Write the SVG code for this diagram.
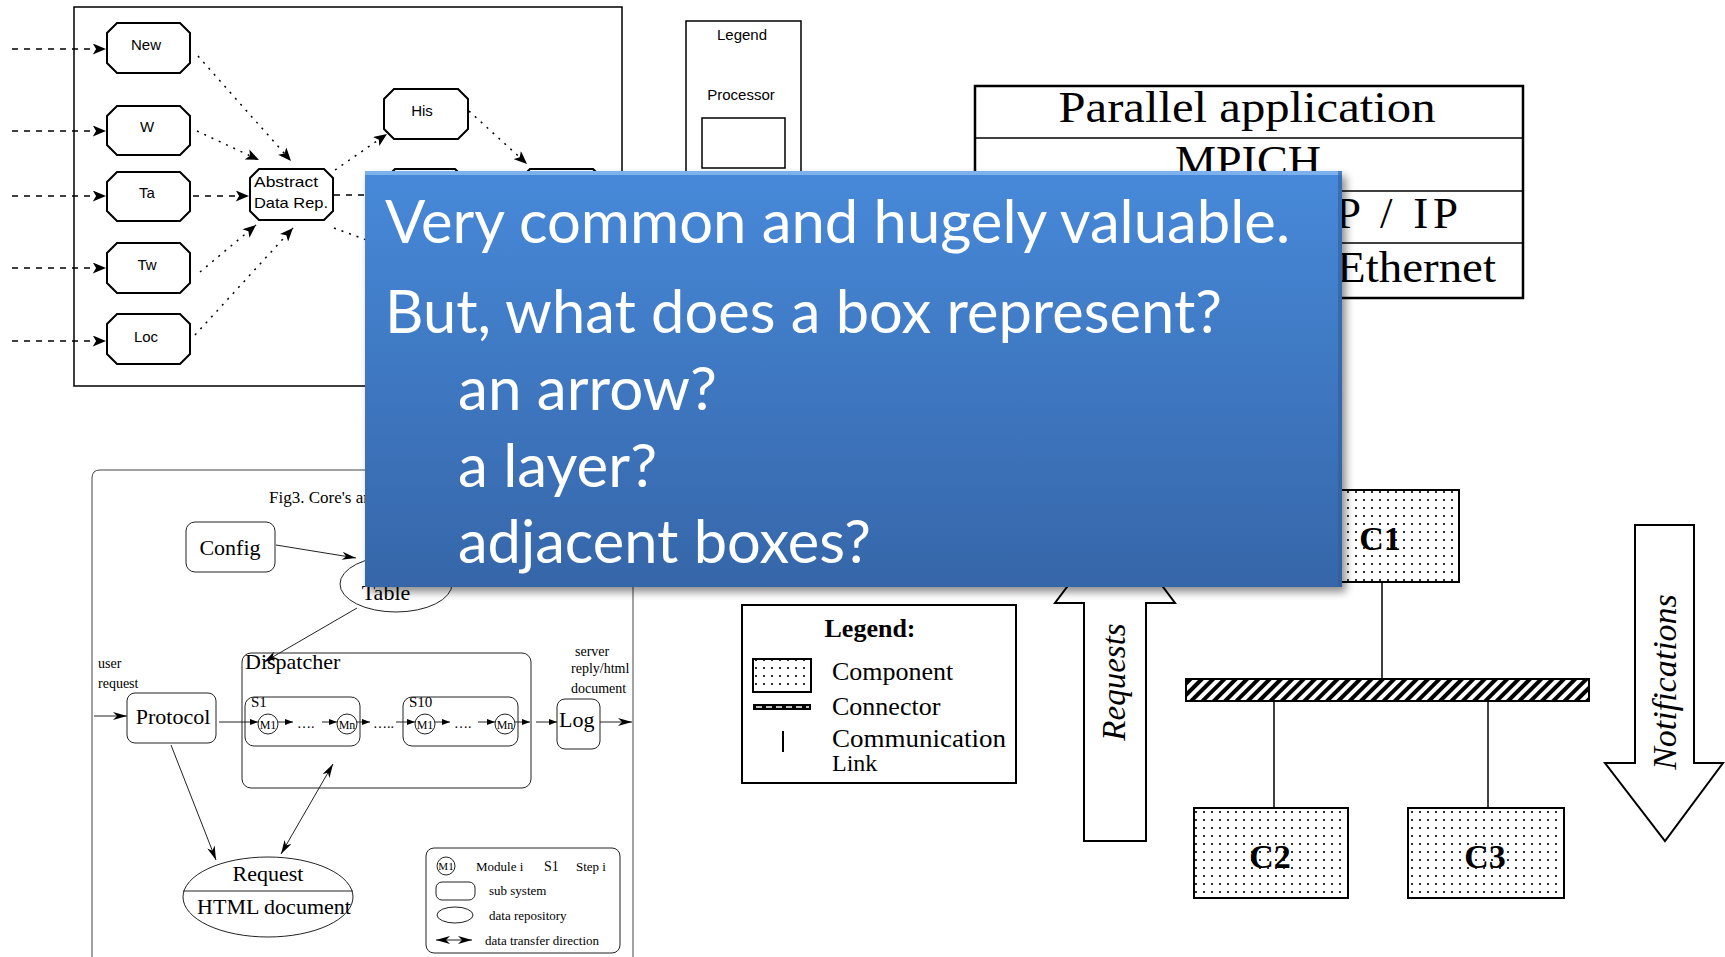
<svg xmlns="http://www.w3.org/2000/svg" width="1725" height="957" viewBox="0 0 1725 957">
<defs>
<style>
.ln{fill:none;stroke:#000;stroke-width:1.5}
.thin{fill:none;stroke:#222;stroke-width:1}
.oct{fill:#fff;stroke:#000;stroke-width:2}
.bm{font-family:"Liberation Sans","DejaVu Sans",sans-serif;font-size:15px;fill:#000}
.sr{font-family:"Liberation Serif","DejaVu Serif",serif;fill:#000}
.dash{fill:none;stroke:#000;stroke-width:1.5;stroke-dasharray:6 6}
.dot{fill:none;stroke:#000;stroke-width:1.5;stroke-dasharray:2 6}
.bl{font-family:"Lato","Open Sans",sans-serif;font-size:60px;fill:#fff}
</style>
<marker id="ah" viewBox="0 0 12 10" refX="12" refY="5" markerWidth="14" markerHeight="11" markerUnits="userSpaceOnUse" orient="auto">
<path d="M0,0 L12,5 L0,10 L3,5 Z" fill="#000"/>
</marker>
<marker id="as" viewBox="0 0 14 8" refX="14" refY="4" markerWidth="16" markerHeight="8" markerUnits="userSpaceOnUse" orient="auto">
<path d="M0,0 L14,4 L0,8 L4,4 Z" fill="#000"/>
</marker>
<marker id="asr" viewBox="0 0 14 8" refX="0" refY="4" markerWidth="16" markerHeight="8" markerUnits="userSpaceOnUse" orient="auto">
<path d="M14,0 L0,4 L14,8 L10,4 Z" fill="#000"/>
</marker>
<marker id="am" viewBox="0 0 8 6" refX="8" refY="3" markerWidth="8" markerHeight="6" markerUnits="userSpaceOnUse" orient="auto">
<path d="M0,0 L8,3 L0,6 Z" fill="#000"/>
</marker>
<pattern id="dots" width="8" height="8" patternUnits="userSpaceOnUse">
<rect width="8" height="8" fill="#fff"/>
<circle cx="4" cy="4" r="1.1" fill="#000"/>
</pattern>
<pattern id="hatch" width="8" height="8" patternUnits="userSpaceOnUse" patternTransform="rotate(45)">
<rect width="8" height="8" fill="#fff"/>
<rect width="4" height="8" fill="#000"/>
</pattern>
<linearGradient id="blue" x1="0" y1="0" x2="0" y2="1">
<stop offset="0" stop-color="#4789d9"/>
<stop offset="1" stop-color="#3666a9"/>
</linearGradient>
<filter id="sh" x="-5%" y="-5%" width="110%" height="115%">
<feGaussianBlur stdDeviation="4"/>
</filter>
</defs>
<rect width="1725" height="957" fill="#fff"/>

<!-- Top-left diagram -->
<g id="tl-frame"><rect x="74" y="7" width="548" height="379" class="ln"/></g>
<g id="connectors">
<line x1="12" y1="49" x2="106" y2="49" class="dash" marker-end="url(#ah)"/>
<line x1="12" y1="131" x2="106" y2="131" class="dash" marker-end="url(#ah)"/>
<line x1="12" y1="196" x2="106" y2="196" class="dash" marker-end="url(#ah)"/>
<line x1="12" y1="268" x2="106" y2="268" class="dash" marker-end="url(#ah)"/>
<line x1="12" y1="341" x2="106" y2="341" class="dash" marker-end="url(#ah)"/>
<line x1="193" y1="196" x2="249" y2="196" class="dash" marker-end="url(#ah)"/>
<line x1="198" y1="56" x2="291" y2="161" class="dot" marker-end="url(#ah)"/>
<line x1="197" y1="131" x2="259" y2="160" class="dot" marker-end="url(#ah)"/>
<line x1="200" y1="272" x2="256" y2="225" class="dot" marker-end="url(#ah)"/>
<line x1="195" y1="335" x2="293" y2="228" class="dot" marker-end="url(#ah)"/>
<line x1="335" y1="170" x2="387" y2="134" class="dot" marker-end="url(#ah)"/>
<line x1="469" y1="111" x2="527" y2="164" class="dot" marker-end="url(#ah)"/>
<line x1="334" y1="195" x2="384" y2="195" class="dash"/>
<line x1="334" y1="228" x2="380" y2="245" class="dot"/>

<!-- bottom-left connectors -->
<line x1="276" y1="545" x2="356" y2="558" class="thin" marker-end="url(#as)"/>
<line x1="357" y1="608" x2="264" y2="662" class="thin" marker-end="url(#as)"/>
<line x1="94" y1="716" x2="127" y2="716" class="thin" marker-end="url(#as)"/>
<line x1="171" y1="745" x2="216" y2="860" class="thin" marker-end="url(#as)"/>
<line x1="281" y1="854" x2="333" y2="764" class="thin" marker-start="url(#asr)" marker-end="url(#as)"/>
<line x1="600" y1="722" x2="632" y2="722" class="thin" marker-end="url(#as)"/>
<line x1="219" y1="722" x2="258" y2="722" class="thin" marker-end="url(#am)"/>
<line x1="278" y1="722" x2="293" y2="722" class="thin" marker-end="url(#am)"/>
<line x1="322" y1="722" x2="337" y2="722" class="thin" marker-end="url(#am)"/>
<line x1="357" y1="722" x2="370" y2="722" class="thin" marker-end="url(#am)"/>
<line x1="396" y1="722" x2="415" y2="722" class="thin" marker-end="url(#am)"/>
<line x1="435" y1="722" x2="450" y2="722" class="thin" marker-end="url(#am)"/>
<line x1="478" y1="722" x2="495" y2="722" class="thin" marker-end="url(#am)"/>
<line x1="515" y1="722" x2="530" y2="722" class="thin" marker-end="url(#am)"/>
<line x1="536" y1="722" x2="557" y2="722" class="thin" marker-end="url(#am)"/>

<!-- right diagram links -->
<line x1="1382" y1="582" x2="1382" y2="679" class="ln"/>
<line x1="1274" y1="701" x2="1274" y2="808" class="ln"/>
<line x1="1488" y1="701" x2="1488" y2="808" class="ln"/>
</g>

<g id="n-new"><path class="oct" d="M117,23 H180 L190,33 V63 L180,73 H117 L107,63 V33 Z"/><text class="bm" x="146" y="50" text-anchor="middle">New</text></g>
<g id="n-w"><path class="oct" d="M117,106 H180 L190,116 V145 L180,155 H117 L107,145 V116 Z"/><text class="bm" x="147" y="132" text-anchor="middle">W</text></g>
<g id="n-ta"><path class="oct" d="M117,172 H180 L190,182 V211 L180,221 H117 L107,211 V182 Z"/><text class="bm" x="147" y="198" text-anchor="middle">Ta</text></g>
<g id="n-tw"><path class="oct" d="M117,243 H180 L190,253 V283 L180,293 H117 L107,283 V253 Z"/><text class="bm" x="147" y="270" text-anchor="middle">Tw</text></g>
<g id="n-loc"><path class="oct" d="M117,314 H180 L190,324 V354 L180,364 H117 L107,354 V324 Z"/><text class="bm" x="146" y="342" text-anchor="middle">Loc</text></g>
<g id="n-adr"><path class="oct" d="M259,169 H324 L333,178 V211 L324,220 H259 L250,211 V178 Z"/><text class="bm" x="254" y="187" textLength="64" lengthAdjust="spacingAndGlyphs">Abstract</text><text class="bm" x="254" y="208" textLength="74" lengthAdjust="spacingAndGlyphs">Data Rep.</text></g>
<g id="n-his"><path class="oct" d="M394,89 H458 L468,99 V129 L458,139 H394 L384,129 V99 Z"/><text class="bm" x="422" y="116" text-anchor="middle">His</text></g>
<g id="n-h1"><path class="oct" d="M395,169 H455 L465,179 V209 L455,219 H395 L385,209 V179 Z"/></g>
<g id="n-h2"><path class="oct" d="M530,169 H593 L603,179 V209 L593,219 H530 L520,209 V179 Z"/></g>

<!-- Legend / Processor -->
<g id="legend-proc">
<rect x="686" y="21" width="115" height="200" class="ln"/>
<text class="bm" x="742" y="40" text-anchor="middle">Legend</text>
<text class="bm" x="741" y="100" text-anchor="middle">Processor</text>
<rect x="702" y="118" width="83" height="50" class="ln"/>
</g>

<!-- Layer stack -->
<g id="layers">
<rect x="975" y="86" width="548" height="212" fill="#fff" stroke="#000" stroke-width="2.5"/>
<line x1="975" y1="138" x2="1523" y2="138" class="ln"/>
<line x1="975" y1="191" x2="1523" y2="191" class="ln"/>
<line x1="975" y1="243" x2="1523" y2="243" class="ln"/>
<text class="sr" x="1247" y="122" font-size="45" text-anchor="middle" textLength="377" lengthAdjust="spacingAndGlyphs">Parallel application</text>
<text class="sr" x="1248" y="176" font-size="45" text-anchor="middle" textLength="146" lengthAdjust="spacingAndGlyphs">MPICH</text>
<text class="sr" x="1336" y="228" font-size="45" textLength="122" lengthAdjust="spacing">P / IP</text>
<text class="sr" x="1337" y="282" font-size="45" textLength="159" lengthAdjust="spacingAndGlyphs">Ethernet</text>
</g>

<!-- Bottom-left diagram -->
<g id="bl-frame"><path d="M92,980 V478 Q92,470 100,470 H625 Q633,470 633,478 V980" fill="none" stroke="#444" stroke-width="1"/>
<text class="sr" x="269" y="503" font-size="17">Fig3. Core's architecture</text></g>
<g id="n-config"><rect x="186" y="522" width="89" height="50" rx="9" class="thin"/><text class="sr" x="230" y="555" font-size="22" text-anchor="middle">Config</text></g>
<g id="n-table"><ellipse cx="396" cy="584" rx="56" ry="28" class="thin"/><text class="sr" x="386" y="600" font-size="22" text-anchor="middle">Table</text></g>
<g id="n-dispatcher"><rect x="242" y="653" width="289" height="135" rx="9" class="thin"/><text class="sr" x="245" y="669" font-size="22">Dispatcher</text></g>
<g id="n-s1"><rect x="245" y="697" width="115" height="49" rx="9" class="thin"/><text class="sr" x="251" y="707" font-size="15">S1</text>
<circle cx="268" cy="724" r="10" fill="#fff" class="thin"/><text class="sr" x="268" y="729" font-size="12" text-anchor="middle">M1</text>
<circle cx="347" cy="724" r="10" fill="#fff" class="thin"/><text class="sr" x="347" y="729" font-size="12" text-anchor="middle">Mn</text>
<text class="sr" x="297" y="728" font-size="14">….</text></g>
<g id="n-s10"><rect x="403" y="697" width="115" height="49" rx="9" class="thin"/><text class="sr" x="409" y="707" font-size="15">S10</text>
<circle cx="425" cy="724" r="10" fill="#fff" class="thin"/><text class="sr" x="425" y="729" font-size="12" text-anchor="middle">M1</text>
<circle cx="505" cy="724" r="10" fill="#fff" class="thin"/><text class="sr" x="505" y="729" font-size="12" text-anchor="middle">Mn</text>
<text class="sr" x="454" y="728" font-size="14">….</text></g>
<g id="dots-mid"><text class="sr" x="373" y="728" font-size="14">…..</text></g>
<g id="n-protocol"><rect x="127" y="693" width="89" height="50" rx="8" class="thin"/><text class="sr" x="173" y="724" font-size="22" text-anchor="middle">Protocol</text></g>
<g id="lbl-user"><text class="sr" x="98" y="668" font-size="14">user</text><text class="sr" x="98" y="688" font-size="14">request</text></g>
<g id="n-log"><rect x="557" y="699" width="43" height="50" rx="8" class="thin"/><text class="sr" x="559" y="727" font-size="22">Log</text></g>
<g id="lbl-server"><text class="sr" x="575" y="656" font-size="14">server</text><text class="sr" x="571" y="673" font-size="14">reply/html</text><text class="sr" x="571" y="693" font-size="14">document</text></g>
<g id="n-request"><ellipse cx="268" cy="897" rx="85" ry="40" class="thin"/><line x1="183" y1="891" x2="353" y2="891" class="thin"/>
<text class="sr" x="268" y="881" font-size="22" text-anchor="middle">Request</text>
<text class="sr" x="274" y="914" font-size="22" text-anchor="middle">HTML document</text></g>
<g id="bl-legend"><rect x="426" y="848" width="194" height="105" rx="8" class="thin"/>
<circle cx="446" cy="866" r="9" class="thin"/><text class="sr" x="446" y="870" font-size="11" text-anchor="middle">M1</text>
<text class="sr" x="476" y="871" font-size="13">Module i</text>
<text class="sr" x="544" y="871" font-size="14">S1</text>
<text class="sr" x="576" y="871" font-size="13">Step i</text>
<rect x="436" y="882" width="39" height="18" rx="6" class="thin"/><text class="sr" x="489" y="895" font-size="13">sub system</text>
<ellipse cx="455" cy="915" rx="18" ry="8" class="thin"/><text class="sr" x="489" y="920" font-size="13">data repository</text>
<line x1="436" y1="940" x2="472" y2="940" class="thin" marker-start="url(#asr)" marker-end="url(#as)"/>
<text class="sr" x="485" y="945" font-size="13">data transfer direction</text></g>

<!-- Middle legend -->
<g id="mid-legend">
<rect x="742" y="605" width="274" height="178" fill="#fff" stroke="#000" stroke-width="2"/>
<text class="sr" x="870" y="637" font-size="26" font-weight="bold" text-anchor="middle">Legend:</text>
<rect x="753" y="659" width="58" height="33" fill="url(#dots)" stroke="#000" stroke-width="2"/>
<text class="sr" x="832" y="680" font-size="26">Component</text>
<rect x="753" y="704" width="58" height="6" fill="#000"/>
<line x1="756" y1="707" x2="809" y2="707" stroke="#fff" stroke-width="1.5" stroke-dasharray="6 4"/>
<text class="sr" x="832" y="715" font-size="26">Connector</text>
<line x1="783" y1="731" x2="783" y2="752" stroke="#000" stroke-width="2"/>
<text class="sr" x="832" y="747" font-size="25" textLength="174" lengthAdjust="spacingAndGlyphs">Communication</text>
<text class="sr" x="832" y="771" font-size="24">Link</text>
</g>

<!-- Right C2 style -->
<g id="n-requests">
<path d="M1084,841 V603 H1055 L1115,523 L1175,603 H1146 V841 Z" fill="#fff" stroke="#000" stroke-width="2"/>
<text class="sr" transform="translate(1125,682) rotate(-90)" font-size="33" font-style="italic" text-anchor="middle">Requests</text>
</g>
<g id="n-c1"><rect x="1304" y="490" width="155" height="92" fill="url(#dots)" stroke="#000" stroke-width="2"/><text class="sr" x="1380" y="550" font-size="34" font-weight="bold" text-anchor="middle">C1</text></g>
<g id="n-bus"><rect x="1186" y="679" width="403" height="22" fill="url(#hatch)" stroke="#000" stroke-width="2"/></g>
<g id="n-c2"><rect x="1194" y="808" width="154" height="90" fill="url(#dots)" stroke="#000" stroke-width="2"/><text class="sr" x="1270" y="868" font-size="34" font-weight="bold" text-anchor="middle">C2</text></g>
<g id="n-c3"><rect x="1408" y="808" width="156" height="90" fill="url(#dots)" stroke="#000" stroke-width="2"/><text class="sr" x="1485" y="868" font-size="34" font-weight="bold" text-anchor="middle">C3</text></g>
<g id="n-notifications">
<path d="M1635,525 H1694 V763 H1723 L1665,841 L1605,763 H1635 Z" fill="#fff" stroke="#000" stroke-width="2"/>
<text class="sr" transform="translate(1676,682) rotate(-90)" font-size="34" font-style="italic" text-anchor="middle">Notifications</text>
</g>

<!-- Blue callout -->
<g id="callout">
<rect x="369" y="176" width="977" height="416" fill="#000" opacity="0.45" filter="url(#sh)"/>
<rect x="365" y="171" width="977" height="416" fill="url(#blue)"/>
<rect x="365" y="171" width="977" height="4" fill="#7db1ee"/>
<rect x="1338" y="171" width="4" height="416" fill="#2f5d9c" opacity="0.6"/>
<text class="bl" x="385" y="243" textLength="905" lengthAdjust="spacingAndGlyphs">Very common and hugely valuable.</text>
<text class="bl" x="385" y="333" textLength="837" lengthAdjust="spacingAndGlyphs">But, what does a box represent?</text>
<text class="bl" x="458" y="410" textLength="259" lengthAdjust="spacingAndGlyphs">an arrow?</text>
<text class="bl" x="458" y="487" textLength="199" lengthAdjust="spacingAndGlyphs">a layer?</text>
<text class="bl" x="458" y="563" textLength="413" lengthAdjust="spacingAndGlyphs">adjacent boxes?</text>
</g>
</svg>
